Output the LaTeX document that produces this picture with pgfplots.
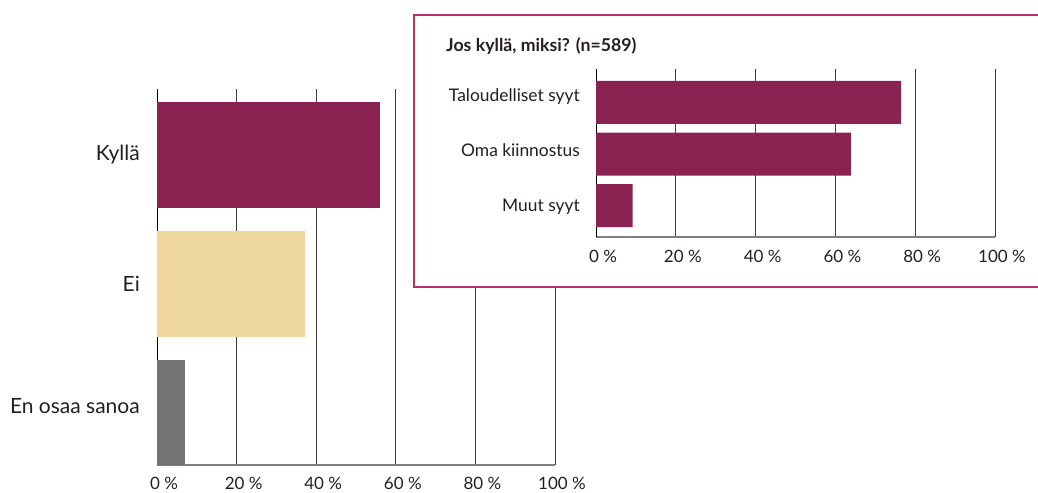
\documentclass[border=0pt]{standalone}
\usepackage{pgfplots}
\pgfplotsset{compat=1.18}
\usepackage{fontspec}
\setmainfont{Lato}

\definecolor{viini}{HTML}{8A2252}
\definecolor{hiekka}{HTML}{EED8A0}
\definecolor{harmaa}{HTML}{737373}
\definecolor{kehys}{HTML}{B3306E}
\definecolor{teksti}{HTML}{231F20}

\pgfplotsset{
  palkit/.style={
    xbar, scale only axis,
    xmin=0, xmax=100,
    bar shift=0pt,
    xtick={0,20,...,100},
    xticklabels={0 \%,20 \%,40 \%,60 \%,80 \%,100 \%},
    major tick length=0pt,
    axis x line*=bottom, axis y line*=left,
    x axis line style={-, draw=black!50, line width=1.3bp},
    y axis line style={-, draw=black, line width=1bp},
    xmajorgrids,
    grid style={draw=black!75, line width=0.9bp},
    xticklabel style={font=\fontsize{17bp}{20bp}\selectfont, text=teksti,
      inner sep=0pt, anchor=north, xshift=7bp, yshift=-12bp},
    /pgf/number format/assume math mode=true,
  }
}

\begin{document}
\begin{tikzpicture}
\path[use as bounding box] (0,0) rectangle (1038bp,493bp);

% paakaavio
\begin{axis}[palkit,
  at={(157bp,28bp)}, anchor=south west,
  width=398bp, height=376bp,
  ymin=-0.406, ymax=2.51,
  bar width=106bp,
  ytick={0.053,1.0,2.015},
  yticklabels={En osaa sanoa,Ei,Kyllä},
  yticklabel style={font=\fontsize{21bp}{25bp}\selectfont, text=teksti,
    inner sep=0pt, anchor=base east, xshift=-17bp, yshift=-7.5bp},
]
\addplot[draw=none, fill=viini] coordinates {(56.1,2)};
\addplot[draw=none, fill=hiekka] coordinates {(37.2,1)};
\addplot[draw=none, fill=harmaa] coordinates {(7.0,0)};
\end{axis}

% laatikko
\draw[kehys, line width=1.3bp, fill=white] (414bp,206bp) rectangle (1050bp,478bp);
\node[anchor=base west, inner sep=0pt, text=teksti,
  font=\bfseries\fontsize{17.7bp}{21bp}\selectfont] at (446bp,441bp) {Jos kyllä, miksi? (n=589)};

% lisakaavio
\begin{axis}[palkit,
  at={(596bp,256bp)}, anchor=south west,
  width=399bp, height=168bp,
  ymin=-0.61, ymax=2.65,
  bar width=43bp,
  ytick={0,1.078,2.146},
  yticklabels={Muut syyt,Oma kiinnostus,Taloudelliset syyt},
  yticklabel style={font=\fontsize{17.4bp}{20bp}\selectfont, text=teksti,
    inner sep=0pt, anchor=base east, xshift=-16bp, yshift=-6.2bp},
  xticklabel style={yshift=-1bp},
]
\addplot[draw=none, fill=viini] coordinates {(76.5,2) (63.9,1) (9.2,0)};
\end{axis}
\end{tikzpicture}
\end{document}
